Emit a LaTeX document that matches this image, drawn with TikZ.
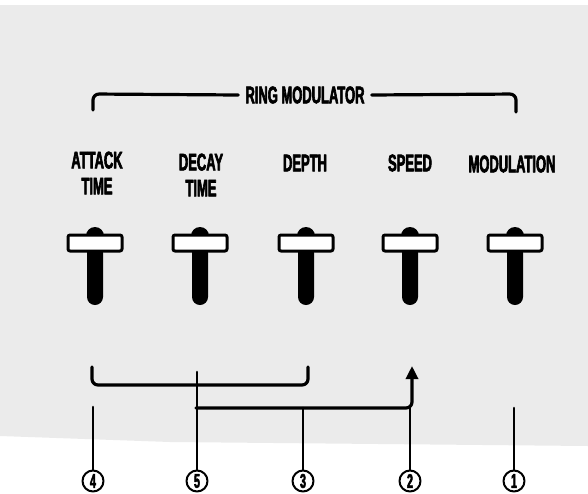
\documentclass[tikz,border=0pt]{standalone}
\usepackage{fontspec}
\newfontfamily\panelfont[FakeStretch=0.54,FakeBold=2.5]{Liberation Sans}
\usetikzlibrary{arrows.meta}

\begin{document}
\begin{tikzpicture}[
	x=1pt,
	y=-1pt,
	line cap=round,
	line join=round,
	every node/.style={font=\panelfont\bfseries\fontsize{24}{26}\selectfont,inner sep=0pt},
	knobtext/.style={align=center},
	num/.style={circle,draw,line width=2pt,minimum size=21pt,
		font=\panelfont\bfseries\fontsize{20}{20}\selectfont},
	bracket/.style={line width=3.2pt,rounded corners=6pt},
	leader/.style={line width=2.6pt}
	]
	\useasboundingbox (0,0) rectangle (588,493);
	\fill[black!8] (0,5) -- (588,5) -- (588,446) -- (170,442) -- (0,436) -- cycle;
	
	% group title
	\node (ring) at (305,95) {RING MODULATOR};
	\draw[bracket] ([xshift=-7pt]ring.west) -- (93,94) -- (93,110);
	\draw[bracket] ([xshift=7pt]ring.east) -- (516,94) -- (516,112);
	
	\node[knobtext] (attack) at (97,173) {ATTACK\\TIME};
	\node[knobtext] (decay) at (201,175) {DECAY\\TIME};
	\node (depth) at (305,163) {DEPTH};
	\node (speed) at (410,163) {SPEED};
	\node (modulation) at (512,164) {MODULATION};
	
	% sliders
	\foreach \x in {95,200,306,410,515}{
		\fill[rounded corners=8pt] (\x-8,245) -- (\x-8,305) -- (\x+8,305) -- (\x+8,245) -- cycle;
		\fill (\x,236) circle (9);
		\draw[line width=3pt,fill=white,rounded corners=2pt] (\x-27,235) rectangle (\x+27,251);
	}
	
	\node[num] (n4) at (93,481) {4};
	\node[num] (n5) at (197,481) {5};
	\node[num] (n3) at (303,481) {3};
	\node[num] (n2) at (410,481) {2};
	\node[num] (n1) at (514,481) {1};
	
	\coordinate (t4) at (92,407);
	\coordinate (t5) at (196,372);
	\coordinate (t3) at (303,408);
	\coordinate (t2) at (412,408);
	\coordinate (t1) at (513,408);
	
	\draw[bracket] (92,367) -- (92,385) -- (308,385) -- (308,367);
	\draw[bracket,-{Triangle[length=13pt,width=12pt]}] (196,408) -- (412,408) -- (412,366);
	
	\foreach \n in {4,5,3,2,1}
	\draw[leader] (n\n.north) -- (n\n.north |- t\n);
\end{tikzpicture}
\end{document}
